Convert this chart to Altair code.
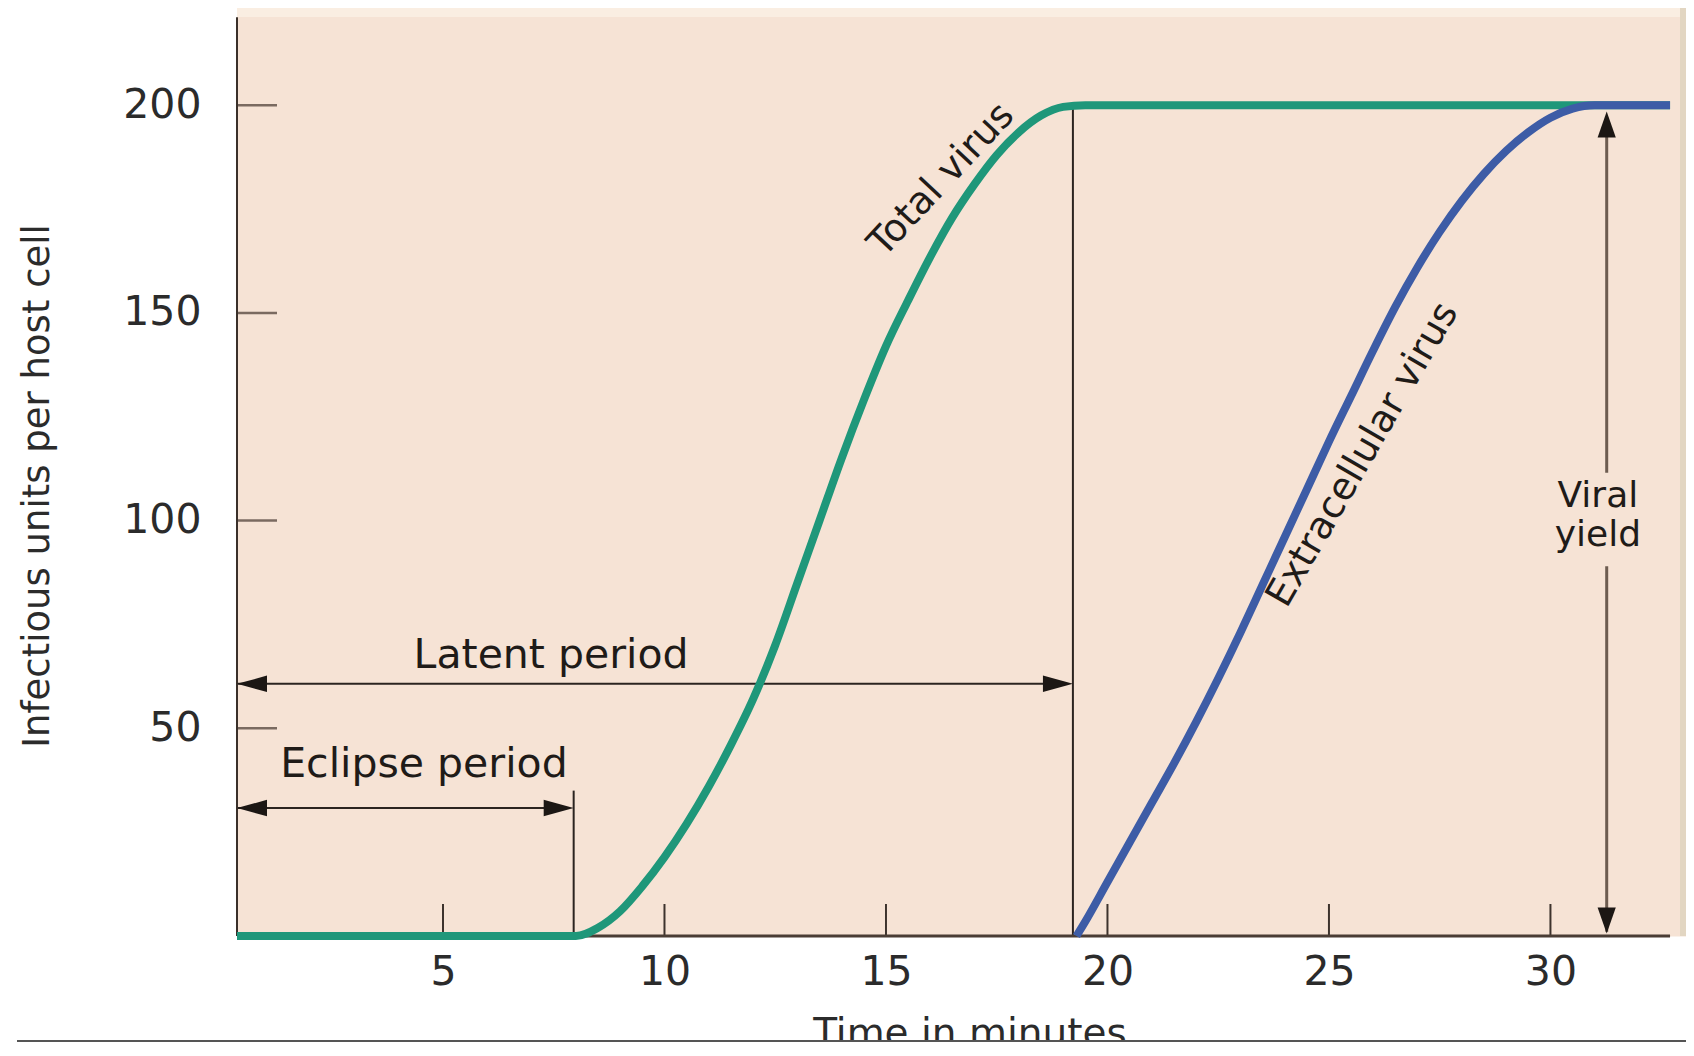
import altair as alt
import pandas as pd

# ---------------- data ----------------
green_t = [0.35, 8.0, 8.5, 9.0, 9.5, 10.0, 10.5, 11.0, 11.5, 12.0, 12.5, 13.0, 13.5,
           14.0, 14.5, 15.0, 15.5, 16.0, 16.5, 17.0, 17.5, 18.0, 18.5, 19.0, 19.5, 32.7]
green_v = [0, 0, 2, 6, 12, 19, 27, 36, 46, 57, 70, 85, 100,
           115, 129, 142, 153, 163.5, 173, 181, 188, 193.5, 197.5, 199.6, 200, 200]

blue_t = [19.3, 19.5, 20.0, 20.5, 21.0, 21.5, 22.0, 22.5, 23.0, 23.5, 24.0, 24.5, 25.0,
          25.5, 26.0, 26.5, 27.0, 27.5, 28.0, 28.5, 29.0, 29.5, 30.0, 30.5, 31.0, 31.5, 32.7]
blue_v = [0, 3.5, 13, 22.5, 32, 41.5, 51.5, 62, 73, 84.5, 96, 107.5, 119,
          130, 141, 151.5, 161, 169.5, 177, 183.5, 189, 193.5, 197, 199.2, 200, 200, 200]

x_ticks = [5, 10, 15, 20, 25, 30]
y_ticks = [50, 100, 150, 200]

x_start = 0.35
x_end = 32.7
eclipse_end = 7.95
latent_end = 19.22
yield_x = 31.27
latent_y = 60.7
eclipse_y = 30.8

ann_text = ["Latent period", "Eclipse period"]
ann_t = [7.44, 4.57]
ann_v = [64.5, 38.3]

rot_text = ["Total virus", "Extracellular virus"]
rot_t = [16.26, 25.77]
rot_v = [182.0, 115.8]
rot_angle = [313, 300]

yield_text = ["Viral\nyield"]
yield_t = [31.07]
yield_v = [105.9]

y_title = "Infectious units per host cell"
x_title = "Time in minutes"

# ---------------- styling ----------------
FONT = "DejaVu Sans"
INK = "#1f1b18"
GREEN = "#1f977a"
BLUE = "#3d5ca6"
W, H = 1449, 928

xs = alt.Scale(domain=[0.35, 33.06], nice=False, zero=False)
ys = alt.Scale(domain=[0, 223.4], nice=False, zero=False)

x_axis = alt.Axis(values=x_ticks, domain=False, ticks=False, tickSize=0, grid=False,
                  labelFont=FONT, labelFontSize=41, labelColor="#2b2b2b",
                  labelPadding=16, labelOverlap=False, labelFlush=False, title=None)
y_axis = alt.Axis(values=y_ticks, domain=False, ticks=False, tickSize=0, grid=False,
                  labelFont=FONT, labelFontSize=41, labelColor="#2b2b2b",
                  labelPadding=36, labelOverlap=False, labelBaseline="middle", title=None)


def X(field="t"):
    return alt.X(f"{field}:Q", scale=xs, axis=x_axis)


def Y(field="v"):
    return alt.Y(f"{field}:Q", scale=ys, axis=y_axis)


dummy = pd.DataFrame({"d": [0]})

# background decorations
top_band = alt.Chart(dummy).mark_rect(color="#faeee2").encode(
    x=alt.value(0), x2=alt.value(W - 6), y=alt.value(0), y2=alt.value(9))
shadow = alt.Chart(dummy).mark_rect(color="#e2d6c2").encode(
    x=alt.value(W - 6), x2=alt.value(W), y=alt.value(0), y2=alt.value(H))

# inward ticks
xt = alt.Chart(pd.DataFrame({"t": x_ticks})).mark_rule(color="#3d332d", strokeWidth=2).encode(
    x=X(), y=alt.value(H), y2=alt.value(H - 32))
yt = alt.Chart(pd.DataFrame({"v": y_ticks})).mark_rule(color="#7a6a60", strokeWidth=2.5).encode(
    y=Y(), x=alt.value(0), x2=alt.value(40))

# construction lines (verticals, arrows, axis lines)
lines = pd.DataFrame({
    "t":  [eclipse_end, latent_end, x_start, x_start, yield_x, yield_x, x_start, x_start],
    "t2": [eclipse_end, latent_end, latent_end - 0.3, eclipse_end - 0.3, yield_x, yield_x, x_end, x_start],
    "v":  [0, 0, latent_y, eclipse_y, 111.5, 1.0, 0, 0],
    "v2": [35, 200, latent_y, eclipse_y, 196, 89.0, 0, 221.2],
    "c":  ["#2b2420", "#2b2420", "#2b2420", "#2b2420", "#6d5c50", "#6d5c50", "#4a3d35", "#3a302a"],
    "w":  [2, 2, 2, 2, 3, 3, 3, 2],
})
rules = alt.Chart(lines).mark_rule().encode(
    x=X(), x2="t2:Q", y=Y(), y2="v2:Q",
    color=alt.Color("c:N", scale=None), strokeWidth=alt.StrokeWidth("w:Q", scale=None))

LEFT = "M0,0 L2,-0.55 L2,0.55 Z"
RIGHT = "M0,0 L-2,-0.55 L-2,0.55 Z"
UP = "M0,0 L-0.7,2 L0.7,2 Z"
DOWN = "M0,0 L-0.7,-2 L0.7,-2 Z"
heads = pd.DataFrame({
    "t": [x_start, latent_end, x_start, eclipse_end, yield_x, yield_x],
    "v": [latent_y, latent_y, eclipse_y, eclipse_y, 198.5, 0.6],
    "shape": [LEFT, RIGHT, LEFT, RIGHT, UP, DOWN],
    "size": [900, 900, 900, 900, 676, 676],
})
arrowheads = alt.Chart(heads).mark_point(filled=True, opacity=1, strokeWidth=0, color="#1c1714").encode(
    x=X(), y=Y(), shape=alt.Shape("shape:N", scale=None), size=alt.Size("size:Q", scale=None))

# curves
green = alt.Chart(pd.DataFrame({"t": green_t, "v": green_v})).mark_line(
    color=GREEN, strokeWidth=8, interpolate="monotone").encode(x=X(), y=Y(), order="t:Q")
blue = alt.Chart(pd.DataFrame({"t": blue_t, "v": blue_v})).mark_line(
    color=BLUE, strokeWidth=8, interpolate="monotone").encode(x=X(), y=Y(), order="t:Q")

# annotations
ann = alt.Chart(pd.DataFrame({"label": ann_text, "t": ann_t, "v": ann_v})).mark_text(
    font=FONT, fontSize=41, color=INK, align="center", baseline="alphabetic").encode(
    x=X(), y=Y(), text="label:N")
rot = alt.Chart(pd.DataFrame({"label": rot_text, "t": rot_t, "v": rot_v, "a": rot_angle})).mark_text(
    font=FONT, fontSize=38, color=INK, align="center", baseline="middle").encode(
    x=X(), y=Y(), text="label:N", angle=alt.Angle("a:Q", scale=None))
yld = alt.Chart(pd.DataFrame({"label": yield_text, "t": yield_t, "v": yield_v})).mark_text(
    font=FONT, fontSize=36, color=INK, align="center", baseline="middle",
    lineBreak="\n", lineHeight=39).encode(x=X(), y=Y(), text="label:N")

ytitle = alt.Chart(pd.DataFrame({"label": [y_title]})).mark_text(
    font=FONT, fontSize=37, color="#2b2b2b", align="center", baseline="middle", angle=270).encode(
    x=alt.value(-199), y=alt.value(478), text="label:N")
xtitle = alt.Chart(pd.DataFrame({"label": [x_title]})).mark_text(
    font=FONT, fontSize=39, color="#2b2b2b", align="center", baseline="alphabetic").encode(
    x=alt.value(733), y=alt.value(1038), text="label:N")
bottom_line = alt.Chart(dummy).mark_rule(color="#555555", strokeWidth=2).encode(
    x=alt.value(-220), x2=alt.value(W), y=alt.value(1033))

chart = alt.layer(
    top_band, shadow, xt, yt, rules, green, blue, arrowheads, ann, rot, yld, ytitle, xtitle, bottom_line
).properties(
    width=W, height=H,
    padding={"left": 229, "top": 0, "right": 0, "bottom": 106},
    autosize=alt.AutoSizeParams(type="none"),
).configure_view(fill="#f6e3d5", stroke="transparent")

chart.save("out.html", embed_options={"renderer": "svg", "actions": False})
